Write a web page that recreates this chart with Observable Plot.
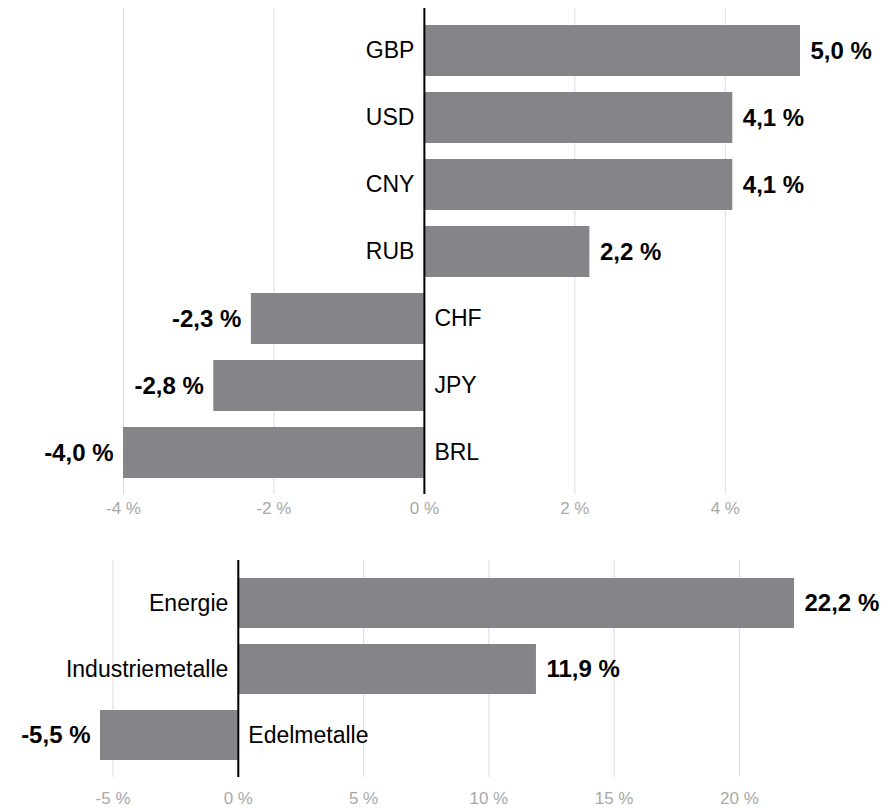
<!DOCTYPE html>
<html>
<head>
<meta charset="utf-8">
<script src="https://cdn.jsdelivr.net/npm/d3@7"></script>
<script src="https://cdn.jsdelivr.net/npm/@observablehq/plot@0.6"></script>
<style>
  body { margin: 0; background: #fff; }
  #chart svg { display: block; }
</style>
</head>
<body>
<div id="chart"></div>
<script>
const currencies = ["GBP", "USD", "CNY", "RUB", "CHF", "JPY", "BRL"];
const currencyValues = [5.0, 4.1, 4.1, 2.2, -2.3, -2.8, -4.0];
const currencyTicks = [-4, -2, 0, 2, 4];

const commodities = ["Energie", "Industriemetalle", "Edelmetalle"];
const commodityValues = [22.2, 11.9, -5.5];
const commodityTicks = [-5, 0, 5, 10, 15, 20];

const FONT = "'Liberation Sans', Arial, Helvetica, sans-serif";
const BAR = "#858488";
const fmtVal = v => v.toFixed(1).replace(".", ",") + " %";

function panel(names, values, ticks, domain, opts) {
  const data = names.map((n, i) => ({name: n, value: values[i]}));
  const pos = data.filter(d => d.value >= 0);
  const neg = data.filter(d => d.value < 0);
  return Plot.plot({
    width: 891,
    height: opts.height,
    marginTop: opts.marginTop,
    marginBottom: opts.marginBottom,
    marginLeft: opts.marginLeft,
    marginRight: opts.marginRight,
    style: {fontFamily: FONT, background: "#fff", overflow: "visible"},
    x: {domain, axis: null, label: null},
    y: {domain: names, padding: 0.245, axis: null, label: null},
    marks: [
      Plot.ruleX(ticks, {stroke: "#dcdcdc", strokeWidth: 1}),
      Plot.axisX({ticks, tickSize: 0, tickPadding: opts.tickPadding, tickFormat: d => d + " %",
                  label: null, fill: "#a8a8a8", fontSize: 17, fontFamily: FONT}),
      Plot.barX(data, {x: "value", y: "name", fill: BAR}),
      Plot.ruleX([0], {stroke: "#000", strokeWidth: 2}),
      Plot.text(pos, {x: () => 0, y: "name", text: "name", dx: -10, textAnchor: "end",
                      fontSize: 23, fill: "#000"}),
      Plot.text(neg, {x: () => 0, y: "name", text: "name", dx: 10, textAnchor: "start",
                      fontSize: 23, fill: "#000"}),
      Plot.text(pos, {x: "value", y: "name", text: d => fmtVal(d.value), dx: 10, textAnchor: "start",
                      fontSize: 24, fontWeight: "bold", fill: "#000"}),
      Plot.text(neg, {x: "value", y: "name", text: d => fmtVal(d.value), dx: -10, textAnchor: "end",
                      fontSize: 24, fontWeight: "bold", fill: "#000"})
    ]
  });
}

const el = document.getElementById("chart");
el.appendChild(panel(currencies, currencyValues, currencyTicks, [-4, 5.0],
  {height: 525, marginTop: 8, marginBottom: 31, marginLeft: 123, marginRight: 91, tickPadding: 7}));
el.appendChild(panel(commodities, commodityValues, commodityTicks, [-5.5, 22.2],
  {height: 283, marginTop: 35, marginBottom: 31, marginLeft: 100, marginRight: 97, tickPadding: 14}));
</script>
</body>
</html>
